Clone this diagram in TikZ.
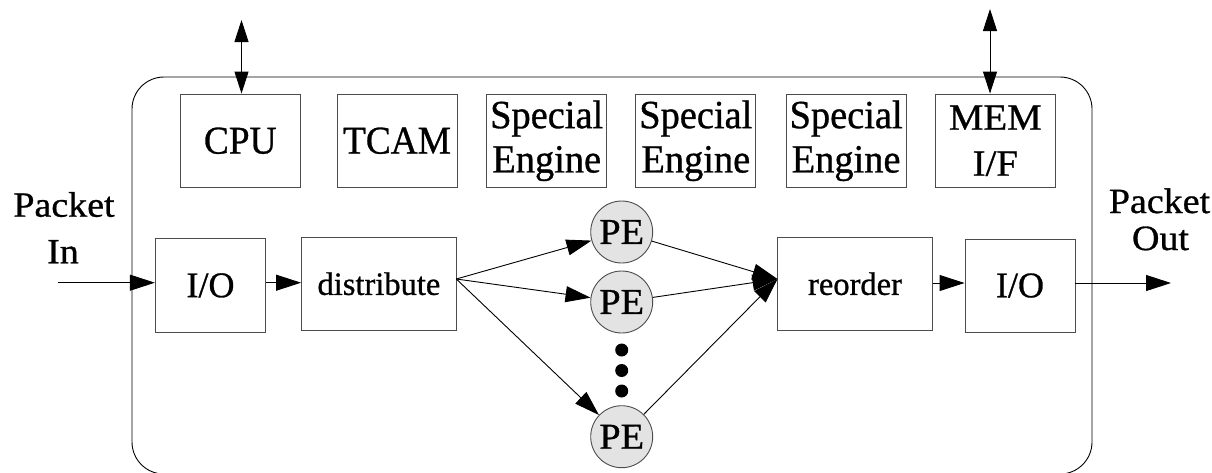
\documentclass[tikz,border=0pt]{standalone}
\usepackage{fontspec}
\setmainfont{Liberation Serif}[FakeBold=0.8]
\newfontfamily\narrowserif{Liberation Serif}[FakeStretch=0.95, FakeBold=0.8]
\newfontfamily\engserif{Liberation Serif}[FakeStretch=0.96, FakeBold=0.8]
\newfontfamily\wideserif{Liberation Serif}[FakeStretch=1.05, FakeBold=0.8]
\newfontfamily\labelserif{Liberation Serif}[FakeStretch=1.07, FakeBold=0.8]
\usetikzlibrary{arrows.meta}

\begin{document}
\begin{tikzpicture}[x=1pt,y=-1pt,
  box/.style={draw=black!70, line width=0.9pt, inner sep=0pt, align=center,
    minimum width=120pt, minimum height=93.5pt},
  unitfont/.style={font=\narrowserif\fontsize{39.3}{44}\selectfont},
  engfont/.style={font=\engserif\fontsize{40}{44.3}\selectfont},
  memfont/.style={font=\wideserif\fontsize{37}{46}\selectfont},
  iofont/.style={font=\fontsize{36}{40}\selectfont},
  small/.style={font=\fontsize{32.5}{38}\selectfont},
  pe/.style={circle, draw=black!70, fill=black!11, line width=0.9pt,
    minimum size=62pt, inner sep=0pt, font=\wideserif\fontsize{36.5}{40}\selectfont},
  dot/.style={circle, fill=black, minimum size=13pt, inner sep=0pt},
  lbl/.style={inner sep=0pt, anchor=base, font=\labelserif\fontsize{35.5}{40}\selectfont},
  link/.style={line width=0.9pt, -{Triangle[length=25pt,width=16pt]}},
  both/.style={line width=0.9pt,
    {Triangle[length=22pt,width=14pt]}-{Triangle[length=22pt,width=14pt]}},
]
\useasboundingbox (0,0) rectangle (1212,472);

% chip outline
\draw[line width=0.9pt, rounded corners=32pt] (132,77) rectangle (1092,474);

% engines along the top
\node[box, unitfont] (cpu)  at (240.25,140.75) {CPU};
\node[box, unitfont] (tcam) at (397,140.75)    {TCAM};
\node[box, engfont]  (se1)  at (546.7,140.75)  {Special\\Engine};
\node[box, engfont]  (se2)  at (695.8,140.75)  {Special\\Engine};
\node[box, engfont]  (se3)  at (846.1,140.75)  {Special\\Engine};
\node[box, memfont]  (mem)  at (995.3,140.75)  {MEM\\I/F};

% packet path
\node[box, iofont, minimum width=110.3pt, minimum height=93.8pt] (ioin) at (210.5,285.4) {I/O};
\node[box, small, minimum width=154.8pt] (dist) at (378.9,283.75) {distribute};
\node[box, small, minimum width=155pt]   (reo)  at (855,283.75)   {reorder};
\node[box, iofont, minimum width=110pt, minimum height=93pt] (ioout) at (1020,285.5) {I/O};

% processing elements
\node[pe] (pe1) at (621.7,232) {PE};
\node[pe] (pe2) at (621.7,302) {PE};
\node[pe] (pe3) at (621.7,436.7) {PE};
\node[dot] (d1) at (621.7,350) {};
\node[dot] (d2) at (621.7,370.5) {};
\node[dot] (d3) at (621.7,391) {};

% outside labels
\node[lbl] (pkin)  at (64,216.7)     {Packet};
\node[lbl] (in)    at (63,263.3)     {In};
\node[lbl] (pkout) at (1159.5,213)   {Packet};
\node[lbl] (out)   at (1160.5,250)   {Out};

% connector end points
\coordinate (cpuext) at (241.5,20);
\coordinate (memext) at (990,9);
\coordinate (src)    at (58,282.7);
\coordinate (sink)   at (1171,283);
\coordinate (fan)    at (456.3,279);
\coordinate (merge)  at (777.5,279);

% external interfaces
\draw[both] (cpuext) -- (cpuext |- cpu.north);
\draw[both] (memext) -- (memext |- mem.north);

% data flow
\draw[link] (src) -- (src -| ioin.west);
\draw[link] (src -| ioin.east) -- (src -| dist.west);
\draw[link] (fan) -- (pe1);
\draw[link] (fan) -- (pe2);
\draw[link] (fan) -- (pe3);
\draw[link] (pe1) -- (merge);
\draw[link] (pe2) -- (merge);
\draw[link] (pe3) -- (merge);
\draw[link] (sink -| reo.east) -- (sink -| ioout.west);
\draw[link] (sink -| ioout.east) -- (sink);
\end{tikzpicture}
\end{document}
